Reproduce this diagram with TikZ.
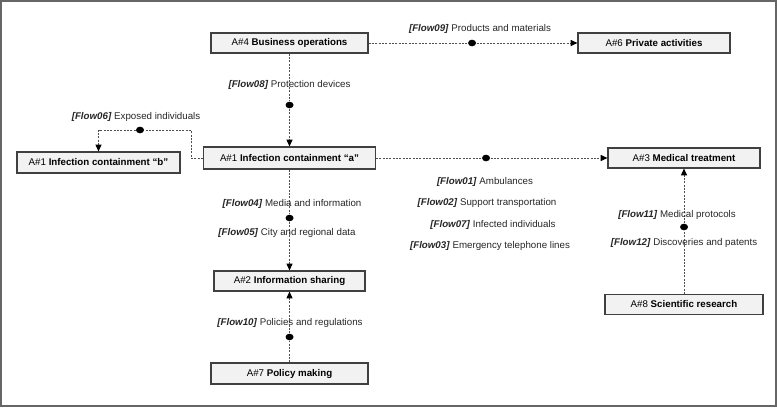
\documentclass[tikz,border=0pt]{standalone}
\usepackage{fontspec}
\setmainfont{Liberation Sans}
\usetikzlibrary{arrows.meta,shapes.geometric}

\newcommand{\flowtag}[1]{\textbf{\textit{[Flow#1]}}}

\tikzset{every picture/.style={line width=0.75pt}}
\tikzset{
  actbox/.style={draw={rgb, 255:red, 64; green, 64; blue, 64}, fill={rgb, 255:red, 242; green, 242; blue, 242}, line width=0.9, minimum height=15pt, inner sep=0pt, font=\fontsize{7.3}{8.5}\selectfont},
  dot/.style={ellipse, fill=black, inner sep=0pt, minimum width=6pt, minimum height=5pt},
  flow/.style={draw={rgb, 255:red, 80; green, 80; blue, 80}, line width=0.6, dash pattern={on 1.5pt off 1pt}, -{Triangle[length=5pt,width=4.5pt,black]}},
  lbl/.style={inner sep=0.75pt, font=\fontsize{7.3}{8.5}\selectfont, text={rgb, 255:red, 38; green, 38; blue, 38}}
}

\begin{document}
\begin{tikzpicture}[x=0.75pt,y=0.75pt,yscale=-1,xscale=1]
\useasboundingbox (0,0) rectangle (777,407);
%Frame
\draw [draw={rgb, 255:red, 102; green, 102; blue, 102}, line width=1.5] (1,1) rectangle (776,406);

%Shapes: Rectangle
\node [actbox, minimum width=117.75pt] (bo) at (289.5,43) {A\#4 \textbf{Business operations}};
\node [actbox, minimum width=114pt] (pa) at (654,43) {A\#6 \textbf{Private activities}};
\node [actbox, minimum width=129pt, minimum height=16.5pt] (ica) at (289.5,158) {A\#1 \textbf{Infection containment “a”}};
\node [actbox, minimum width=122.25pt, minimum height=15.75pt] (icb) at (98.5,162.5) {A\#1 \textbf{Infection containment “b”}};
\node [actbox, minimum width=114pt] (mt) at (684,158) {A\#3 \textbf{Medical treatment}};
\node [actbox, minimum width=118.5pt] (sr) at (684,304.5) {A\#8 \textbf{Scientific research}};
\node [actbox, minimum width=113.25pt] (is) at (289.5,281) {A\#2 \textbf{Information sharing}};
\node [actbox, minimum width=117.75pt, minimum height=15.75pt] (pm) at (289.5,373.5) {A\#7 \textbf{Policy making}};

%Shapes: Ellipse
\node [dot] (d09) at (472,43) {};
\node [dot] (d08) at (289.5,105) {};
\node [dot] (d06) at (140,130) {};
\node [dot] (d01) at (486,158) {};
\node [dot] (d04) at (289.5,218) {};
\node [dot] (d10) at (289.5,337) {};
\node [dot] (d11) at (684,227) {};

%Straight Lines
\draw [flow] (bo) -- (d09) -- (pa);
\draw [flow] (bo) -- (d08) -- (ica);
\draw [flow] (ica) -- (d01) -- (mt);
\draw [flow] (ica) -- (d04) -- (is);
\draw [flow] (pm) -- (d10) -- (is);
\draw [flow] (sr) -- (d11) -- (mt);
\draw [flow] (ica.west) -- ++(-12,0) |- (d06) -| (icb.north);

% Text Node
\node [lbl] (l09) at (480,29) {\flowtag{09} Products and materials};
\node [lbl] (l08) at (289.5,85) {\flowtag{08} Protection devices};
\node [lbl] (l06) at (136,117) {\flowtag{06} Exposed individuals};
\node [lbl] (l01) at (485,182) {\flowtag{01} Ambulances};
\node [lbl] (l02) at (487,203) {\flowtag{02} Support transportation};
\node [lbl] (l07) at (493,225) {\flowtag{07} Infected individuals};
\node [lbl] (l03) at (490,246) {\flowtag{03} Emergency telephone lines};
\node [lbl] (l04) at (292,204) {\flowtag{04} Media and information};
\node [lbl] (l05) at (287,233) {\flowtag{05} City and regional data};
\node [lbl] (l10) at (290,323) {\flowtag{10} Policies and regulations};
\node [lbl] (l11) at (677,215) {\flowtag{11} Medical protocols};
\node [lbl] (l12) at (684,243) {\flowtag{12} Discoveries and patents};

\end{tikzpicture}
\end{document}
